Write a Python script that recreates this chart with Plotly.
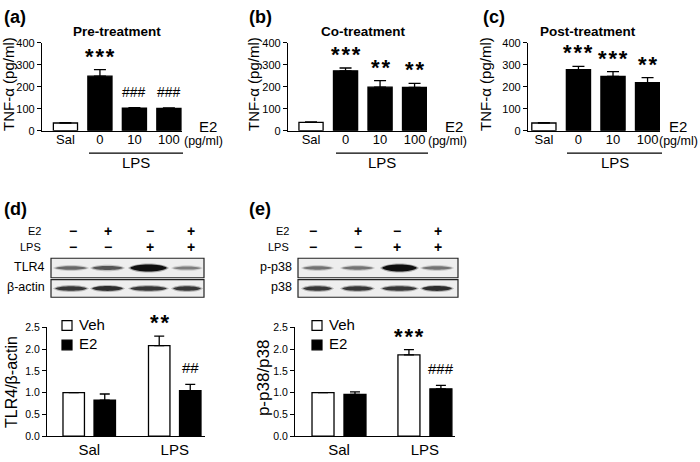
import plotly.graph_objects as go

W, H = 700, 462
FONT = "Liberation Sans, Arial, sans-serif"

# ---------------- data ----------------
top_groups = ["Sal", "0", "10", "100"]
top_colors = ["white", "black", "black", "black"]
pre_mean = [35, 248, 103, 101]
pre_err = [2, 30, 2, 3]
pre_sig = ["", "***", "###", "###"]
co_mean = [38, 272, 198, 197]
co_err = [2, 13, 30, 18]
co_sig = ["", "***", "**", "**"]
post_mean = [35, 277, 247, 218]
post_err = [2, 15, 22, 23]
post_sig = ["", "***", "***", "**"]

wb_groups = ["Sal", "LPS"]
tlr4_veh = [1.0, 2.08]
tlr4_veh_err = [0.0, 0.22]
tlr4_e2 = [0.83, 1.05]
tlr4_e2_err = [0.14, 0.14]
tlr4_veh_sig = ["", "**"]
tlr4_e2_sig = ["", "##"]
p38_veh = [1.0, 1.87]
p38_veh_err = [0.0, 0.12]
p38_e2 = [0.96, 1.09]
p38_e2_err = [0.06, 0.08]
p38_veh_sig = ["", "***"]
p38_e2_sig = ["", "###"]

e2_signs = ["−", "+", "−", "+"]
lps_signs = ["−", "−", "+", "+"]
tlr4_band = [0.55, 0.65, 1.0, 0.45]
actin_band = [0.8, 0.85, 0.8, 0.8]
pp38_band = [0.5, 0.5, 1.0, 0.5]
p38_band = [0.8, 0.8, 0.8, 0.85]

# ---------------- layout helpers ----------------
def dx(a, b):
    return [a / W, b / W]

def dy(top, bottom):
    return [1 - bottom / H, 1 - top / H]

def sig_text(sv):
    if "*" in sv:
        return "<b>" + "\u200a".join(sv) + "</b>"
    return sv

fig = go.Figure()

axis_common = dict(showline=True, linecolor="black", linewidth=1.3, showgrid=False,
                   zeroline=False, tickfont=dict(family=FONT, size=11, color="black"))

top_specs = [
    ("x", "y", pre_mean, pre_err, pre_sig, dx(42, 182), [-0.68, 3.38]),
    ("x2", "y2", co_mean, co_err, co_sig, dx(288, 427), [-0.667, 3.36]),
    ("x3", "y3", post_mean, post_err, post_sig, dx(528, 660), [-0.46, 3.36]),
]
annotations = []
for i, (xa, ya, m, e, s, xd, xr) in enumerate(top_specs):
    fig.add_trace(go.Bar(x=top_groups, y=m, xaxis=xa, yaxis=ya, width=0.70,
                         marker=dict(color=top_colors, line=dict(color="black", width=1.3)),
                         error_y=dict(type="data", array=e, arrayminus=[0] * len(e), symmetric=False,
                                      color="black", thickness=1.3, width=6),
                         showlegend=False, hoverinfo="skip"))
    n = "" if i == 0 else str(i + 1)
    fig.layout["xaxis" + n] = dict(domain=xd, range=xr, anchor=ya, ticks="", type="category",
                                   ticklabelstandoff=-3,
                                   **{**axis_common, "tickfont": dict(family=FONT, size=13, color="black")})
    fig.layout["yaxis" + n] = dict(domain=dy(37.7, 128), range=[0, 400], dtick=100, anchor=xa,
                                   ticks="outside", ticklen=4, tickwidth=1.3, tickcolor="black", **axis_common)
    for k, (mv, ev, sv) in enumerate(zip(m, e, s)):
        if sv:
            star = "*" in sv
            annotations.append(dict(xref=xa, yref=ya, x=k, y=mv + ev, text=sig_text(sv), showarrow=False,
                                    yanchor="bottom", yshift=-1 if star else 6,
                                    font=dict(family=FONT, size=22 if star else 14, color="black")))

bot_specs = [
    ("x4", "y4", tlr4_veh, tlr4_veh_err, tlr4_e2, tlr4_e2_err, tlr4_veh_sig, tlr4_e2_sig,
     dx(47, 205), [-0.494, 1.354], -0.307, 0.056, 0.251),
    ("x5", "y5", p38_veh, p38_veh_err, p38_e2, p38_e2_err, p38_veh_sig, p38_e2_sig,
     dx(295, 455), [-0.512, 1.35], -0.314, 0.058, 0.256),
]
for j, (xa, ya, vm, ve, em, ee, vs, es, xd, xr, ov, oe, bw) in enumerate(bot_specs):
    for vals, errs, sig, col, off in ((vm, ve, vs, "white", ov), (em, ee, es, "black", oe)):
        fig.add_trace(go.Bar(x=wb_groups, y=vals, xaxis=xa, yaxis=ya, width=bw, offset=off,
                             marker=dict(color=col, line=dict(color="black", width=1.3)),
                             error_y=dict(type="data", array=errs, arrayminus=[0] * len(errs),
                                          symmetric=False, color="black", thickness=1.3, width=5),
                             showlegend=False, hoverinfo="skip"))
        for k, (v, e, sv) in enumerate(zip(vals, errs, sig)):
            if sv:
                star = "*" in sv
                annotations.append(dict(xref=xa, yref=ya, x=k + off + bw / 2, y=v + e, text=sig_text(sv),
                                        showarrow=False, yanchor="bottom", yshift=-1 if star else 6,
                                        font=dict(family=FONT, size=22 if star else 15, color="black")))
    n = str(j + 4)
    fig.layout["xaxis" + n] = dict(domain=xd, range=xr, anchor=ya, ticks="", type="category",
                                   ticklabelstandoff=0,
                                   **{**axis_common, "tickfont": dict(family=FONT, size=15, color="black")})
    fig.layout["yaxis" + n] = dict(domain=dy(330, 441.7), range=[0, 2.5], dtick=0.5, tickformat=".1f",
                                   anchor=xa, ticks="outside", ticklen=4, tickwidth=1.3,
                                   tickcolor="black", **{**axis_common, "tickfont": dict(family=FONT, size=10.5, color="black")})

# overlay axis in pixel coordinates for decorations
fig.layout["xaxis6"] = dict(domain=[0, 1], range=[0, W], visible=False, anchor="y6", fixedrange=True)
fig.layout["yaxis6"] = dict(domain=[0, 1], range=[H, 0], visible=False, anchor="x6", fixedrange=True)
fig.add_trace(go.Scatter(x=[0], y=[0], xaxis="x6", yaxis="y6", mode="markers",
                         marker=dict(opacity=0), showlegend=False, hoverinfo="skip"))

def txt(x, y, t, size, bold=False, xanchor="center", angle=0):
    annotations.append(dict(xref="x6", yref="y6", x=x, y=y - (1.5 if angle == 0 else 0),
                            text=("<b>%s</b>" % t) if bold else t,
                            showarrow=False, xanchor=xanchor, yanchor="middle", textangle=angle,
                            font=dict(family=FONT, size=size, color="black")))

shapes = []

# panel letters
for lx, ly, lt in ((2, 13, "(a)"), (247, 13, "(b)"), (481, 13, "(c)"), (2, 210, "(d)"), (247, 210, "(e)")):
    txt(lx, ly, lt, 18, bold=True, xanchor="left")
# titles
for cx, t in ((117, "Pre-treatment"), (363, "Co-treatment"), (588, "Post-treatment")):
    txt(cx, 28, t, 13.5, bold=True)
# y titles top
for cx in (9, 254, 486):
    txt(cx, 80, "TNF-α (pg/ml)", 15, angle=-90)
# E2 / (pg/ml) / LPS line
for e2x, pgx, l0, l1 in ((197, 182, 89, 183), (443, 426, 336, 428), (667, 657, 567, 662)):
    txt(e2x, 125, "E2", 15, xanchor="left")
    txt(pgx, 140, "(pg/ml)", 12.5, xanchor="left")
    shapes.append(dict(type="line", xref="x6", yref="y6", x0=l0, x1=l1, y0=151, y1=151,
                       line=dict(color="black", width=1.3)))
    txt((l0 + l1) / 2, 162, "LPS", 15)

# bottom y titles
txt(12, 386, "TLR4/β-actin", 16, angle=-90)
txt(263, 382, "p-p38/p38", 17, angle=-90)

# legends
for sx in (62, 312):
    for yy, col, lab in ((328, "white", "Veh"), (348, "black", "E2")):
        shapes.append(dict(type="rect", xref="x6", yref="y6", x0=sx, x1=sx + 10, y0=yy - 5, y1=yy + 5,
                           fillcolor=col, line=dict(color="black", width=1.2)))
        txt(sx + 15, yy, lab, 15, xanchor="left")

# western blots
def band_path(x0, x1, yc, t):
    w = x1 - x0
    h = t / 2 / 0.75
    return ("M %.1f,%.1f C %.1f,%.1f %.1f,%.1f %.1f,%.1f C %.1f,%.1f %.1f,%.1f %.1f,%.1f Z" %
            (x0, yc, x0 + w * 0.15, yc - h, x1 - w * 0.15, yc - h, x1, yc,
             x1 - w * 0.15, yc + h, x0 + w * 0.15, yc + h, x0, yc))

def blot(box_x0, box_x1, lab_x, sign_x, lanes, rows):
    txt(lab_x - 4, 233, "E2", 11, xanchor="right")
    txt(lab_x - 4, 249, "LPS", 11, xanchor="right")
    for sxx, a, b in zip(sign_x, e2_signs, lps_signs):
        txt(sxx, 233, a, 14, bold=True)
        txt(sxx, 249, b, 14, bold=True)
    for (y0, y1, label, inten, thick) in rows:
        shapes.append(dict(type="rect", xref="x6", yref="y6", x0=box_x0, x1=box_x1, y0=y0, y1=y1,
                           fillcolor="#eeeeee", line=dict(color="#222222", width=1.2), layer="below"))
        txt(box_x0 - 4, (y0 + y1) / 2, label, 12.5, xanchor="right")
        yc = (y0 + y1) / 2
        for (lx0, lx1), iv, tk in zip(lanes, inten, thick):
            g = int(235 - iv * 200)
            shapes.append(dict(type="path", xref="x6", yref="y6", path=band_path(lx0 - 2, lx1 + 2, yc, tk * iv + 4),
                               fillcolor="rgba(%d,%d,%d,0.35)" % (g, g, g), line=dict(width=0)))
            shapes.append(dict(type="path", xref="x6", yref="y6", path=band_path(lx0, lx1, yc, tk * iv + 1.5),
                               fillcolor="rgb(%d,%d,%d)" % (g - 20, g - 20, g - 20), line=dict(width=0)))

blot(51, 204, 47, [73, 108, 150, 191], [(55, 87), (92, 123), (130, 167), (173, 201)],
     [(259, 279, "TLR4", tlr4_band, [4, 4, 5.5, 4]), (281, 299, "β-actin", actin_band, [4, 4, 4, 4])])
blot(298, 458, 295, [313, 358, 397, 438], [(303, 332), (342, 373), (382, 417), (422, 452)],
     [(259, 279, "p-p38", pp38_band, [4, 4, 5.5, 4]), (281, 299, "p38", p38_band, [4, 4, 4, 4])])

fig.update_layout(width=W, height=H, margin=dict(l=0, r=0, t=0, b=0), plot_bgcolor="rgba(0,0,0,0)",
                  paper_bgcolor="white", barmode="overlay", annotations=annotations, shapes=shapes,
                  font=dict(family=FONT, color="black"))
fig.write_html("out.html", config={"displayModeBar": False},
               post_script="document.body.style.margin='0';document.body.style.overflow='hidden';")
